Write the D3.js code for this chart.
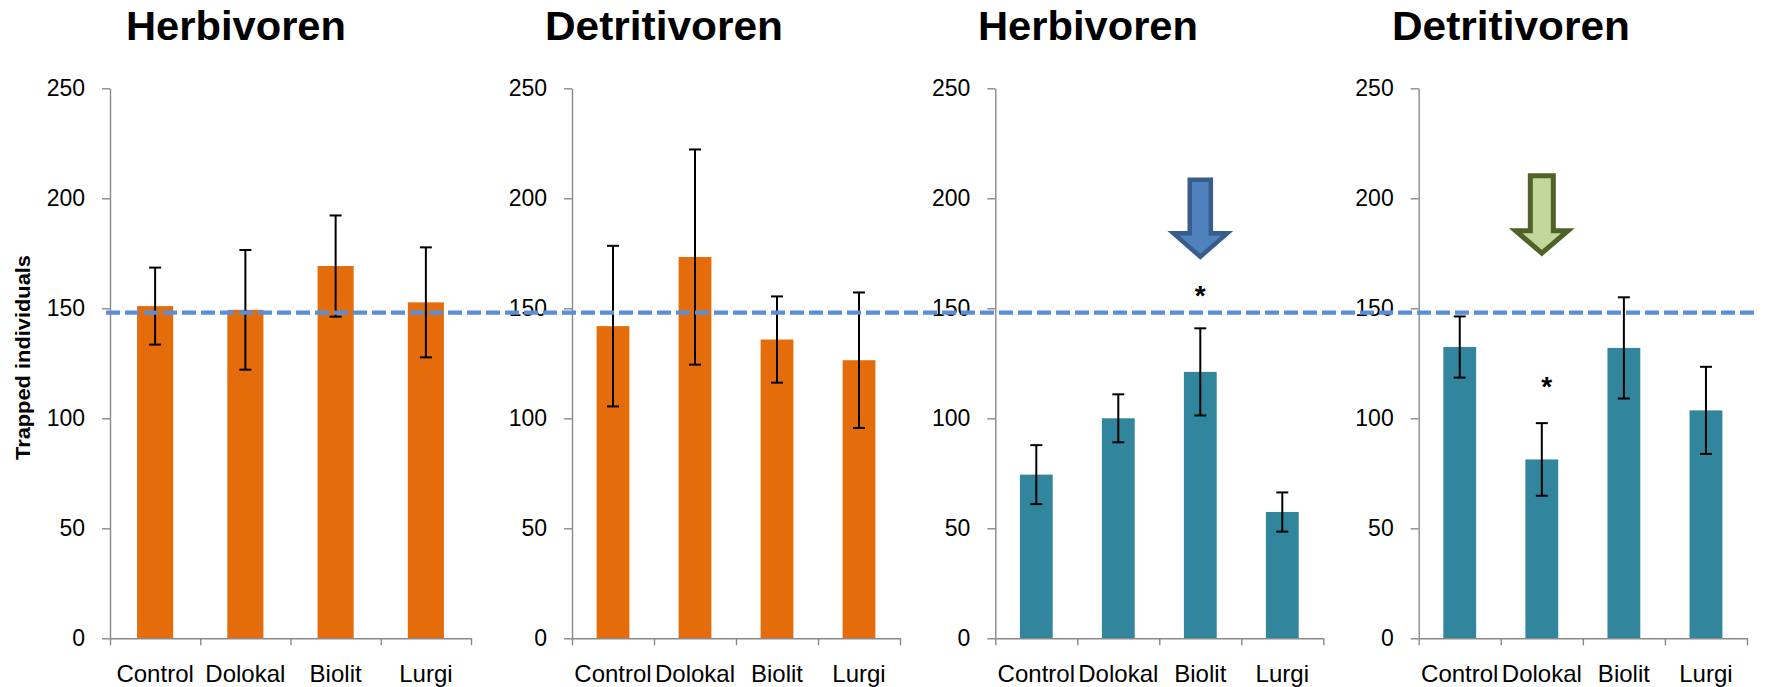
<!DOCTYPE html>
<html>
<head>
<meta charset="utf-8">
<script src="https://cdn.jsdelivr.net/npm/d3@7"></script>
<style>
  html, body { margin: 0; padding: 0; background: #fff; }
  svg { display: block; }
  text { font-family: "Liberation Sans", Arial, sans-serif; }
</style>
</head>
<body>
<svg id="chart" width="1765" height="687"></svg>
<script>
// ---------------- data ----------------
const categories = ["Control", "Dolokal", "Biolit", "Lurgi"];
const panelTitles = ["Herbivoren", "Detritivoren", "Herbivoren", "Detritivoren"];
const yTicks = [0, 50, 100, 150, 200, 250];
const yAxisTitle = "Trapped individuals";

const herbA_mean = [151.0, 149.3, 169.2, 152.7];
const herbA_err  = [17.5, 27.2, 23.0, 25.0];
const detrA_mean = [141.9, 173.3, 135.8, 126.4];
const detrA_err  = [36.5, 48.9, 19.6, 30.8];
const herbB_mean = [74.4, 100.0, 121.1, 57.4];
const herbB_err  = [13.4, 10.9, 19.8, 8.9];
const detrB_mean = [132.4, 81.3, 132.0, 103.6];
const detrB_err  = [13.9, 16.5, 23.0, 19.8];

const referenceLine = 148;

// significance marks: panel index, category, value at asterisk centre
const sigPanels = [2, 3];
const sigCategories = ["Biolit", "Dolokal"];
const sigValues = [159, 117.4];

// arrows: panel, category, shaft-top value, head-top value, tip value
const arrowPanels = [2, 3];
const arrowCategories = ["Biolit", "Dolokal"];
const arrowTop = [209.5, 211.4];
const arrowHeadTop = [185.1, 186.4];
const arrowTip = [172.0, 173.5];

// ---------------- layout / style ----------------
const svg = d3.select("#chart");
const yTop = 88.3, yBottom = 638.3;
const panelLayout = [
  { x0: 110,   x1: 471,    titleX: 236,  titleW: 220, color: "#E46C0A" },
  { x0: 572,   x1: 900,    titleX: 664,  titleW: 238, color: "#E46C0A" },
  { x0: 995.3, x1: 1323.3, titleX: 1088, titleW: 220, color: "#31859C" },
  { x0: 1418.7,x1: 1747,   titleX: 1511, titleW: 238, color: "#31859C" }
];
const panelMeans = [herbA_mean, detrA_mean, herbB_mean, detrB_mean];
const panelErrs  = [herbA_err, detrA_err, herbB_err, detrB_err];
const arrowStyles = [
  { fill: "#4F81BD", stroke: "#385D8A", sw: 4.5, shaftW: 25.6, headW: 58.3 },
  { fill: "#C3D69B", stroke: "#4F6228", sw: 5,   shaftW: 28,   headW: 57.4 }
];

const y = d3.scaleLinear().domain([0, 250]).range([yBottom, yTop]);
const axisColor = "#898989";

const xScales = [];

panelLayout.forEach((p, i) => {
  const g = svg.append("g");
  const x = d3.scaleBand().domain(categories).range([p.x0, p.x1])
    .paddingInner(0.6).paddingOuter(0.3);
  xScales.push(x);

  // title
  g.append("text")
    .attr("x", p.titleX).attr("y", 40.3)
    .attr("text-anchor", "middle")
    .attr("font-size", 40).attr("font-weight", "bold")
    .attr("textLength", p.titleW).attr("lengthAdjust", "spacingAndGlyphs")
    .attr("fill", "#000")
    .text(panelTitles[i]);

  // bars
  g.selectAll("rect.bar").data(categories).enter().append("rect")
    .attr("class", "bar")
    .attr("x", d => x(d))
    .attr("width", x.bandwidth())
    .attr("y", (d, j) => y(panelMeans[i][j]))
    .attr("height", (d, j) => y(0) - y(panelMeans[i][j]))
    .attr("fill", p.color);

  // y axis
  const yAxis = d3.axisLeft(y).tickValues(yTicks).tickSize(8).tickSizeOuter(0).tickPadding(17);
  const ya = g.append("g").attr("transform", `translate(${p.x0},0)`).call(yAxis);
  ya.select(".domain").attr("stroke", axisColor).attr("stroke-width", 1.4);
  ya.selectAll(".tick line").attr("stroke", axisColor).attr("stroke-width", 1.4);
  ya.selectAll(".tick text").attr("font-size", 23).attr("fill", "#000")
    .attr("font-family", "'Liberation Sans', Arial, sans-serif");

  // x axis: boundary ticks (Excel style) + category labels
  const xb = d3.scaleLinear().domain([0, categories.length]).range([p.x0, p.x1]);
  const xbAxis = d3.axisBottom(xb).tickValues(d3.range(categories.length + 1))
    .tickSize(7).tickSizeOuter(0).tickFormat("");
  const xa = g.append("g").attr("transform", `translate(0,${yBottom})`).call(xbAxis);
  xa.select(".domain").attr("stroke", axisColor).attr("stroke-width", 1.4);
  xa.selectAll(".tick line").attr("stroke", axisColor).attr("stroke-width", 1.4);

  const xl = d3.axisBottom(x).tickSize(0).tickPadding(0);
  const xla = g.append("g").attr("transform", `translate(0,${yBottom})`).call(xl);
  xla.select(".domain").remove();
  xla.selectAll(".tick text").attr("font-size", 24).attr("fill", "#000")
    .attr("font-family", "'Liberation Sans', Arial, sans-serif")
    .attr("dy", null).attr("y", 44);

  // error bars
  const cap = 6;
  categories.forEach((c, j) => {
    const cx = x(c) + x.bandwidth() / 2;
    const m = panelMeans[i][j], e = panelErrs[i][j];
    const eg = g.append("g").attr("stroke", "#000").attr("stroke-width", 2);
    eg.append("line").attr("x1", cx).attr("x2", cx).attr("y1", y(m + e)).attr("y2", y(m - e));
    eg.append("line").attr("x1", cx - cap).attr("x2", cx + cap).attr("y1", y(m + e)).attr("y2", y(m + e));
    eg.append("line").attr("x1", cx - cap).attr("x2", cx + cap).attr("y1", y(m - e)).attr("y2", y(m - e));
  });
});

// y-axis title
svg.append("text")
  .attr("transform", `translate(29.5,357.5) rotate(-90)`)
  .attr("text-anchor", "middle")
  .attr("font-size", 20).attr("font-weight", "bold")
  .attr("textLength", 205).attr("lengthAdjust", "spacingAndGlyphs")
  .text(yAxisTitle);

// reference dashed line spanning all panels
svg.append("line")
  .attr("x1", 106).attr("x2", 1757)
  .attr("y1", y(referenceLine)).attr("y2", y(referenceLine))
  .attr("stroke", "#5B8ED6").attr("stroke-width", 4.2)
  .attr("stroke-dasharray", "14,5");

// significance asterisks
sigPanels.forEach((pi, k) => {
  const x = xScales[pi];
  const cx = x(sigCategories[k]) + x.bandwidth() / 2 + (pi === 3 ? 5 : 0);
  svg.append("text")
    .attr("x", cx).attr("y", y(sigValues[k]) + 16)
    .attr("text-anchor", "middle")
    .attr("font-size", 28).attr("font-weight", "bold")
    .text("*");
});

// arrows
arrowPanels.forEach((pi, k) => {
  const x = xScales[pi];
  const st = arrowStyles[k];
  const cx = x(arrowCategories[k]) + x.bandwidth() / 2;
  const h = st.sw / 2;
  const sw2 = st.shaftW / 2 - h, hw2 = st.headW / 2 - h;
  const yT = y(arrowTop[k]) + h, yH = y(arrowHeadTop[k]) + h, yP = y(arrowTip[k]) - h * 1.4;
  const path = d3.path();
  path.moveTo(cx - sw2, yT);
  path.lineTo(cx + sw2, yT);
  path.lineTo(cx + sw2, yH);
  path.lineTo(cx + hw2, yH);
  path.lineTo(cx, yP);
  path.lineTo(cx - hw2, yH);
  path.lineTo(cx - sw2, yH);
  path.closePath();
  svg.append("path").attr("d", path.toString())
    .attr("fill", st.fill).attr("stroke", st.stroke)
    .attr("stroke-width", st.sw).attr("stroke-linejoin", "miter");
});
</script>
</body>
</html>
